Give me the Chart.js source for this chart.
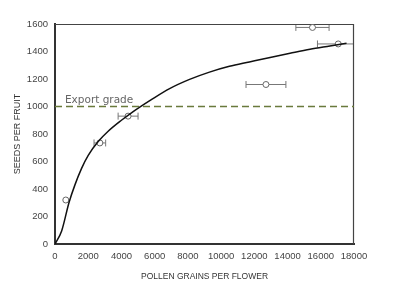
<!DOCTYPE html>
<html>
<head>
<meta charset="utf-8">
<script src="https://cdn.jsdelivr.net/npm/chart.js@4"></script>
<style>
  html, body { margin: 0; padding: 0; background: #fff; }
  #wrap { width: 397px; height: 300px; }
</style>
</head>
<body>
<div id="wrap"><canvas id="myChart" width="397" height="300"></canvas></div>
<script>
// measured points (pollen grains per flower, seeds per fruit)
var pollen = [650, 2700, 4400, 12700, 15500, 17050];
var seeds = [320, 735, 930, 1160, 1575, 1455];
var pollenErr = [0, 350, 600, 1200, 1000, 1250];

// fitted curve
var curveX = [0, 400, 840, 1200, 1600, 2000, 2600, 3200, 4000, 4500, 5100, 5800, 6900, 8100, 9300, 10500, 11700, 12950, 14150, 15350, 16550, 17550];
var curveY = [0, 95, 300, 430, 550, 645, 745, 820, 900, 945, 995, 1050, 1130, 1197, 1250, 1292, 1324, 1357, 1387, 1416, 1440, 1460];

var exportGrade = 1000;
var xTicks = [0, 2000, 4000, 6000, 8000, 10000, 12000, 14000, 16000, 18000];
var yTicks = [0, 200, 400, 600, 800, 1000, 1200, 1400, 1600];

var ctx = document.getElementById('myChart').getContext('2d');

var points = pollen.map(function (x, i) { return { x: x, y: seeds[i] }; });
var curve = curveX.map(function (x, i) { return { x: x, y: curveY[i] }; });

// horizontal error bars, the "Export grade" label and the top/right frame
var extras = {
    id: 'extras',
    beforeDatasetsDraw: function (chart) {
        var c = chart.ctx, xs = chart.scales.x, ys = chart.scales.y;
        var a = chart.chartArea;
        c.save();
        c.beginPath();
        c.rect(a.left, a.top, a.right - a.left, a.bottom - a.top);
        c.clip();
        c.strokeStyle = '#777';
        c.lineWidth = 1;
        pollen.forEach(function (x, i) {
            if (!pollenErr[i]) return;
            var y = ys.getPixelForValue(seeds[i]);
            var x0 = xs.getPixelForValue(x - pollenErr[i]);
            var x1 = xs.getPixelForValue(x + pollenErr[i]);
            c.beginPath();
            c.moveTo(x0, y); c.lineTo(x1, y);
            c.moveTo(x0, y - 3.5); c.lineTo(x0, y + 3.5);
            c.moveTo(x1, y - 3.5); c.lineTo(x1, y + 3.5);
            c.stroke();
        });
        c.restore();

        c.save();
        c.fillStyle = '#666';
        c.font = '10.5px "DejaVu Sans"';
        c.textBaseline = 'bottom';
        c.fillText('Export grade', xs.getPixelForValue(600), ys.getPixelForValue(exportGrade) - 1);

        c.strokeStyle = '#444';
        c.lineWidth = 1.2;
        c.beginPath();
        c.moveTo(a.left, a.top + 0.5);
        c.lineTo(a.right - 0.5, a.top + 0.5);
        c.lineTo(a.right - 0.5, a.bottom);
        c.stroke();
        c.restore();
    }
};

var plain = function (v) { return String(v); };

var myChart = new Chart(ctx, {
    type: 'scatter',
    data: {
        datasets: [{
            label: 'Export grade',
            data: [{ x: 0, y: exportGrade }, { x: 18000, y: exportGrade }],
            showLine: true,
            borderColor: '#6a7a3c',
            borderDash: [7, 4],
            borderWidth: 1.5,
            pointRadius: 0
        }, {
            label: 'fit',
            data: curve,
            showLine: true,
            cubicInterpolationMode: 'monotone',
            borderColor: '#111',
            borderWidth: 1.5,
            pointRadius: 0
        }, {
            label: 'seeds',
            data: points,
            pointRadius: 3,
            pointBackgroundColor: '#fff',
            pointBorderColor: '#666',
            pointBorderWidth: 1
        }]
    },
    options: {
        responsive: false,
        animation: false,
        layout: { padding: { top: 24, right: 43, left: 0, bottom: 0 } },
        plugins: {
            legend: { display: false },
            tooltip: { enabled: false }
        },
        scales: {
            x: {
                min: 0,
                max: 18000,
                afterBuildTicks: function (s) { s.ticks = xTicks.map(function (v) { return { value: v }; }); },
                afterFit: function (s) { s.height = 56; },
                ticks: {
                    color: '#444',
                    font: { family: 'Liberation Sans', size: 9.5 },
                    maxRotation: 0,
                    padding: 3,
                    callback: plain
                },
                grid: { display: false, drawTicks: true, tickLength: 4, tickColor: '#333' },
                border: { color: '#333', width: 2 },
                title: {
                    display: true,
                    text: 'POLLEN GRAINS PER FLOWER',
                    color: '#333',
                    font: { family: 'Liberation Sans', size: 8.5 },
                    padding: { top: 0, bottom: 18 }
                }
            },
            y: {
                min: 0,
                max: 1600,
                afterBuildTicks: function (s) { s.ticks = yTicks.map(function (v) { return { value: v }; }); },
                afterFit: function (s) { s.width = 55; },
                ticks: {
                    color: '#444',
                    font: { family: 'Liberation Sans', size: 9.5 },
                    padding: 2,
                    callback: plain
                },
                grid: { display: false, drawTicks: true, tickLength: 5, tickColor: '#333' },
                border: { color: '#333', width: 2 },
                title: {
                    display: true,
                    text: 'SEEDS PER FRUIT',
                    color: '#333',
                    font: { family: 'Liberation Sans', size: 9 },
                    padding: { top: 12, bottom: 0 }
                }
            }
        }
    },
    plugins: [extras]
});
</script>
</body>
</html>
